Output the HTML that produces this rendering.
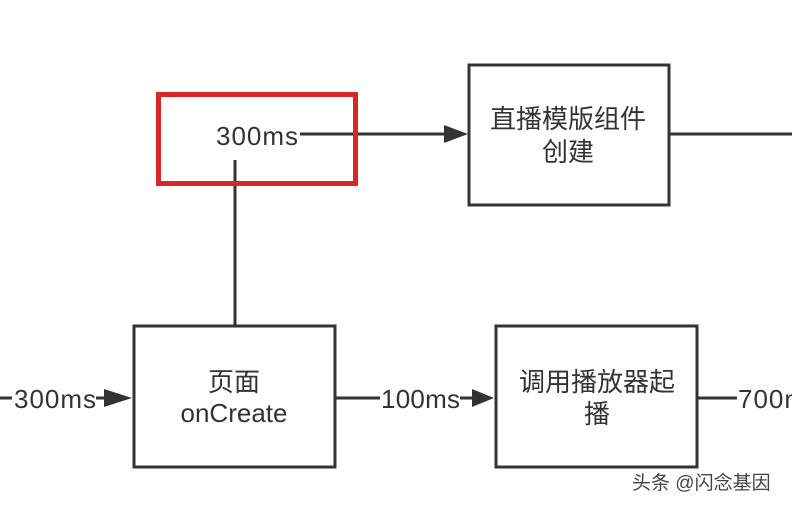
<!DOCTYPE html>
<html><head><meta charset="utf-8"><style>
body{margin:0;background:#fff;width:792px;height:506px;overflow:hidden}
svg text{font-family:"Liberation Sans","Noto Sans CJK SC",sans-serif;fill:#333;font-size:26px}
</style></head><body>
<svg width="792" height="506" xmlns="http://www.w3.org/2000/svg">
<g stroke="#333" stroke-width="3" fill="none">
<rect x="134" y="326" width="201" height="141" fill="#fff"/>
<rect x="496" y="326" width="201" height="141" fill="#fff"/>
<rect x="469" y="65" width="200" height="140" fill="#fff"/>
<line x1="235" y1="160" x2="235" y2="326"/>
<line x1="300" y1="134" x2="445" y2="134"/>
<line x1="669" y1="134" x2="792" y2="134"/>
<line x1="0" y1="398" x2="12" y2="398"/>
<line x1="96" y1="398" x2="112" y2="398"/>
<line x1="335" y1="398" x2="380" y2="398"/>
<line x1="460" y1="398" x2="475" y2="398"/>
<line x1="697" y1="398" x2="737" y2="398"/>
</g>
<g fill="#333">
<polygon points="468,134 444,125 444,143"/>
<polygon points="132,398 104,389 104,407"/>
<polygon points="494,398 472,389 472,407"/>
</g>
<rect x="158.5" y="94.5" width="197" height="89" fill="none" stroke="#d92727" stroke-width="5"/>
<text x="216" y="145" textLength="82">300ms</text>
<text x="14" y="408" textLength="82">300ms</text>
<text x="381" y="408" textLength="79">100ms</text>
<text x="738" y="408" textLength="82">700ms</text>
<text x="234" y="391" text-anchor="middle">页面</text>
<text x="234" y="422" text-anchor="middle">onCreate</text>
<text x="568" y="128" text-anchor="middle">直播模版组件</text>
<text x="568" y="161" text-anchor="middle">创建</text>
<text x="597" y="391" text-anchor="middle">调用播放器起</text>
<text x="597" y="423" text-anchor="middle">播</text>
<text x="632" y="489" style="font-size:19px;fill:#444">头条 @闪念基因</text>
</svg>
</body></html>
